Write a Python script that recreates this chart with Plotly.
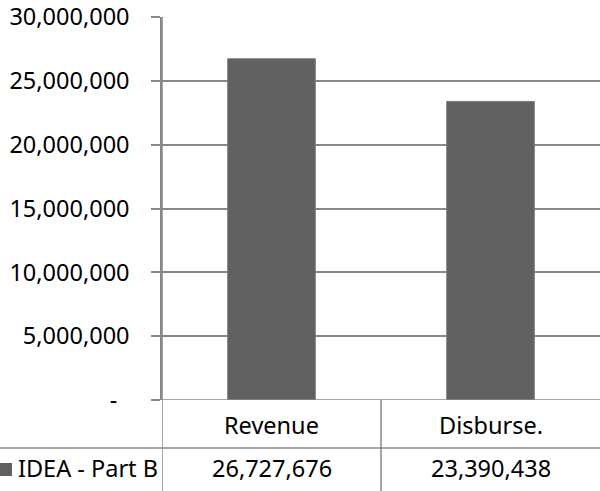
import plotly.graph_objects as go

categories = ["Revenue", "Disburse."]
series_name = "IDEA - Part B"
values = [26727676, 23390438]
tick_vals = [0, 5000000, 10000000, 15000000, 20000000, 25000000, 30000000]
tick_text = ["-\u00a0\u00a0", "5,000,000", "10,000,000", "15,000,000",
             "20,000,000", "25,000,000", "30,000,000"]

FONT = "Noto Sans"
FS = 23.5
BAR = "#616161"
GRID = "#878787"

W, H = 600, 491
L, R, T, B = 162, 0, 17, 91
plot_h = H - T - B
plot_w = W - L - R

def py(pix_y):
    return (H - B - pix_y) / plot_h

def px(pix_x):
    return (pix_x - L) / plot_w

fig = go.Figure()
fig.add_trace(go.Bar(
    x=list(range(len(categories))), y=values, name=series_name,
    marker=dict(color=BAR, line=dict(color="#7a7a7a", width=1)),
    width=0.40, showlegend=False,
))

shapes = []
shapes.append(dict(type="line", xref="paper", yref="paper", x0=px(0), x1=1,
                   y0=py(448), y1=py(448), line=dict(color=GRID, width=1.5)))
for b in [-0.5] + [i + 0.5 for i in range(len(categories) - 1)]:
    shapes.append(dict(type="line", xref="x", yref="paper", x0=b, x1=b,
                       y0=py(H + 2), y1=0 if b > -0.5 else 1,
                       line=dict(color=GRID, width=1.5)))
shapes.append(dict(type="rect", xref="paper", yref="paper", x0=px(0), x1=px(12),
                   y0=py(476), y1=py(463), fillcolor=BAR, line=dict(width=0)))

annotations = []
for i, c in enumerate(categories):
    annotations.append(dict(x=i, y=py(425), xref="x", yref="paper", text=c,
                            showarrow=False, font=dict(family=FONT, size=FS, color="black"),
                            xanchor="center", yanchor="middle"))
    annotations.append(dict(x=i, y=py(468), xref="x", yref="paper", text=f"{values[i]:,}",
                            showarrow=False, font=dict(family=FONT, size=FS, color="black"),
                            xanchor="center", yanchor="middle"))
annotations.append(dict(x=px(16), y=py(468), xref="paper", yref="paper", text=series_name,
                        showarrow=False, font=dict(family=FONT, size=FS, color="black"),
                        xanchor="left", yanchor="middle"))

fig.update_layout(
    width=W, height=H,
    margin=dict(l=L, r=R, t=T, b=B, pad=0),
    paper_bgcolor="white", plot_bgcolor="white",
    font=dict(family=FONT, size=FS, color="black"),
    shapes=shapes, annotations=annotations,
)
fig.update_xaxes(range=[-0.5, len(categories) - 0.5], showticklabels=False, showgrid=False,
                 zeroline=False, showline=False, ticks="")
fig.update_yaxes(range=[0, 30000000], tickvals=tick_vals, ticktext=tick_text,
                 showgrid=True, gridcolor=GRID, gridwidth=1.5, zeroline=False,
                 showline=True, linecolor=GRID, linewidth=1.5,
                 ticks="outside", ticklen=9, tickcolor=GRID, tickwidth=1.5,
                 ticklabelstandoff=17,
                 tickfont=dict(family=FONT, size=FS, color="black"))
fig.add_shape(type="line", xref="paper", yref="y", x0=0, x1=1, y0=0, y1=0,
              line=dict(color=GRID, width=1.5))

fig.write_html("out.html")
